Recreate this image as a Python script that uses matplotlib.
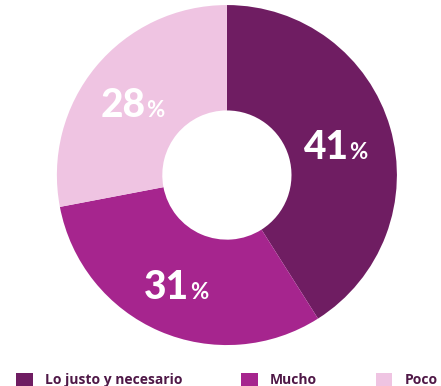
import matplotlib
matplotlib.use('Agg')
import matplotlib.pyplot as plt
from matplotlib.patches import Patch
import numpy as np

categories = ['Lo justo y necesario', 'Mucho', 'Poco']
values = [41, 31, 28]
colors = ['#6f1d62', '#a6258e', '#efc4e2']
label_color = '#4f1847'

plt.rcParams['font.family'] = ['Lato', 'DejaVu Sans']

fig = plt.figure(figsize=(4.41, 3.86), dpi=100)
ax = fig.add_axes([0.129, 0.106, 0.771, 0.881])

wedges, _ = ax.pie(values, colors=colors, startangle=90, counterclock=False,
                   radius=1, wedgeprops=dict(width=0.62, edgecolor='none'))
ax.set_xlim(-1, 1)
ax.set_ylim(-1, 1)
ax.set_aspect('equal')
ax.axis('off')

# percentage labels: large number plus a smaller % sign
start = 90.0
for v in values:
    mid = np.deg2rad(start - v / 100 * 360 / 2)
    start -= v / 100 * 360
    r = 0.69
    x, y = r * np.cos(mid), r * np.sin(mid)
    t = ax.text(x - 0.08, y - 0.03, str(v), ha='center', va='center',
                fontsize=28, fontweight='black', color='white')
    ax.annotate('%', xy=(1.0, 0.08), xycoords=t, xytext=(0.5, 0), textcoords='offset points',
                ha='left', va='bottom', fontsize=16, fontweight='bold', color='white')

handles = [Patch(facecolor=c, edgecolor='none') for c in colors]
leg = fig.legend(handles, categories, loc='lower left', bbox_to_anchor=(0.008, -0.035),
                 ncol=3, frameon=False, prop={'family': 'Open Sans', 'weight': 'bold', 'size': 10},
                 handlelength=1.2, handleheight=1.1, handletextpad=0.9, columnspacing=4.2)
for txt in leg.get_texts():
    txt.set_color(label_color)

fig.savefig('out.png', dpi=100, facecolor='white')
